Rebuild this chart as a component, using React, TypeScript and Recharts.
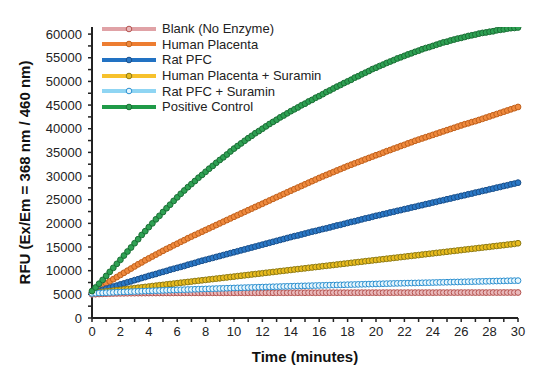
import { LineChart, Line, XAxis, YAxis, Label } from "recharts";

// sampling times (minutes), every 15 s
const TIME = [
  0, 0.25, 0.5, 0.75, 1, 1.25, 1.5, 1.75, 2, 2.25, 2.5, 2.75, 3, 3.25, 3.5, 3.75,
  4, 4.25, 4.5, 4.75, 5, 5.25, 5.5, 5.75, 6, 6.25, 6.5, 6.75, 7, 7.25, 7.5, 7.75,
  8, 8.25, 8.5, 8.75, 9, 9.25, 9.5, 9.75, 10, 10.25, 10.5, 10.75, 11, 11.25, 11.5, 11.75,
  12, 12.25, 12.5, 12.75, 13, 13.25, 13.5, 13.75, 14, 14.25, 14.5, 14.75, 15, 15.25, 15.5, 15.75,
  16, 16.25, 16.5, 16.75, 17, 17.25, 17.5, 17.75, 18, 18.25, 18.5, 18.75, 19, 19.25, 19.5, 19.75,
  20, 20.25, 20.5, 20.75, 21, 21.25, 21.5, 21.75, 22, 22.25, 22.5, 22.75, 23, 23.25, 23.5, 23.75,
  24, 24.25, 24.5, 24.75, 25, 25.25, 25.5, 25.75, 26, 26.25, 26.5, 26.75, 27, 27.25, 27.5, 27.75,
  28, 28.25, 28.5, 28.75, 29, 29.25, 29.5, 29.75, 30,
];

const BLANK = [
  5000, 5040, 5080, 5110, 5140, 5160, 5180, 5200, 5210, 5220, 5230, 5240, 5250, 5250, 5260, 5270,
  5270, 5280, 5280, 5290, 5290, 5300, 5290, 5300, 5310, 5300, 5310, 5320, 5310, 5320, 5320, 5310,
  5320, 5330, 5320, 5320, 5330, 5320, 5330, 5330, 5320, 5330, 5340, 5330, 5330, 5340, 5330, 5340,
  5330, 5340, 5340, 5330, 5340, 5350, 5340, 5340, 5350, 5340, 5340, 5350, 5340, 5350, 5350, 5340,
  5350, 5350, 5340, 5350, 5360, 5350, 5350, 5360, 5350, 5350, 5360, 5350, 5360, 5360, 5350, 5360,
  5360, 5350, 5360, 5370, 5360, 5360, 5370, 5360, 5360, 5370, 5360, 5370, 5370, 5360, 5370, 5370,
  5360, 5370, 5380, 5370, 5370, 5380, 5370, 5370, 5380, 5370, 5380, 5380, 5370, 5380, 5380, 5370,
  5380, 5390, 5380, 5380, 5390, 5380, 5390, 5380, 5390,
];

const HUMAN_PLACENTA = [
  5400, 5850, 6350, 6800, 7300, 7750, 8200, 8650, 9100, 9550, 10000, 10450, 10900, 11350, 11750, 12200,
  12600, 13000, 13400, 13800, 14200, 14600, 14950, 15350, 15700, 16100, 16450, 16850, 17200, 17550, 17900, 18250,
  18600, 18950, 19300, 19650, 20000, 20350, 20700, 21050, 21400, 21740, 22090, 22430, 22780, 23120, 23470, 23810,
  24150, 24500, 24840, 25190, 25530, 25870, 26210, 26560, 26900, 27240, 27570, 27910, 28250, 28590, 28920, 29260,
  29600, 29920, 30230, 30540, 30850, 31170, 31480, 31790, 32100, 32390, 32680, 32960, 33250, 33540, 33830, 34110,
  34400, 34650, 34950, 35250, 35500, 35800, 36050, 36350, 36600, 36900, 37150, 37450, 37700, 37950, 38200, 38450,
  38700, 38950, 39200, 39450, 39700, 39950, 40200, 40450, 40700, 40950, 41150, 41400, 41600, 41850, 42100, 42350,
  42600, 42850, 43100, 43350, 43600, 43850, 44100, 44350, 44600,
];

const RAT_PFC = [
  5300, 5500, 5750, 5950, 6200, 6400, 6650, 6850, 7100, 7300, 7550, 7750, 8000, 8200, 8450, 8650,
  8900, 9100, 9300, 9550, 9750, 9950, 10200, 10400, 10600, 10800, 11000, 11250, 11450, 11650, 11900, 12100,
  12300, 12500, 12700, 12900, 13100, 13300, 13500, 13700, 13900, 14100, 14300, 14500, 14700, 14900, 15100, 15300,
  15500, 15700, 15900, 16100, 16300, 16500, 16700, 16900, 17100, 17300, 17450, 17650, 17850, 18050, 18250, 18400,
  18600, 18800, 18950, 19150, 19350, 19550, 19700, 19900, 20100, 20300, 20450, 20650, 20850, 21050, 21200, 21400,
  21600, 21750, 21950, 22100, 22300, 22450, 22650, 22800, 23000, 23150, 23350, 23500, 23700, 23850, 24050, 24200,
  24400, 24550, 24750, 24900, 25100, 25250, 25450, 25600, 25800, 25950, 26150, 26300, 26500, 26650, 26850, 27000,
  27200, 27350, 27550, 27700, 27900, 28050, 28250, 28400, 28600,
];

const HP_SURAMIN = [
  5300, 5380, 5450, 5530, 5600, 5700, 5780, 5870, 5950, 6050, 6130, 6220, 6300, 6400, 6480, 6570,
  6650, 6750, 6830, 6920, 7000, 7100, 7180, 7270, 7350, 7450, 7530, 7620, 7700, 7800, 7880, 7970,
  8050, 8150, 8230, 8320, 8400, 8500, 8580, 8670, 8750, 8850, 8930, 9020, 9100, 9200, 9280, 9370,
  9450, 9550, 9630, 9720, 9800, 9900, 9980, 10070, 10150, 10250, 10330, 10420, 10500, 10600, 10680, 10770,
  10850, 10950, 11030, 11120, 11200, 11300, 11380, 11470, 11550, 11650, 11730, 11820, 11900, 12000, 12080, 12170,
  12250, 12350, 12430, 12520, 12600, 12700, 12780, 12870, 12950, 13050, 13130, 13220, 13300, 13400, 13480, 13570,
  13650, 13750, 13830, 13920, 14000, 14100, 14180, 14270, 14350, 14450, 14530, 14620, 14700, 14800, 14880, 14970,
  15050, 15150, 15230, 15320, 15400, 15500, 15580, 15670, 15800,
];

const RAT_PFC_SURAMIN = [
  5200, 5240, 5280, 5310, 5350, 5380, 5420, 5450, 5480, 5510, 5540, 5570, 5600, 5630, 5660, 5690,
  5720, 5750, 5780, 5800, 5830, 5860, 5890, 5910, 5940, 5970, 5990, 6020, 6040, 6070, 6090, 6120,
  6140, 6170, 6190, 6220, 6240, 6270, 6290, 6320, 6340, 6370, 6390, 6420, 6440, 6460, 6490, 6510,
  6530, 6550, 6580, 6600, 6620, 6640, 6670, 6690, 6710, 6730, 6760, 6780, 6800, 6820, 6840, 6860,
  6880, 6900, 6920, 6940, 6960, 6980, 7000, 7020, 7040, 7060, 7080, 7100, 7120, 7140, 7160, 7180,
  7200, 7220, 7240, 7260, 7280, 7300, 7320, 7330, 7350, 7370, 7390, 7400, 7420, 7440, 7460, 7470,
  7490, 7510, 7530, 7540, 7560, 7580, 7600, 7610, 7630, 7650, 7670, 7680, 7700, 7720, 7740, 7750,
  7770, 7790, 7810, 7820, 7840, 7860, 7880, 7890, 7900,
];

const POSITIVE = [
  5700, 6450, 7250, 8050, 8900, 9750, 10600, 11450, 12300, 13200, 14050, 14900, 15800, 16650, 17550, 18350,
  19200, 20000, 20850, 21600, 22400, 23200, 23950, 24750, 25500, 26250, 26950, 27650, 28300, 28950, 29650, 30250,
  30900, 31550, 32150, 32800, 33400, 33950, 34550, 35200, 35800, 36350, 36900, 37450, 38000, 38500, 39050, 39500,
  40000, 40500, 41000, 41450, 41900, 42400, 42800, 43250, 43700, 44100, 44500, 44950, 45300, 45750, 46100, 46550,
  46900, 47300, 47750, 48100, 48500, 48900, 49250, 49650, 50000, 50350, 50800, 51100, 51500, 51850, 52200, 52600,
  52900, 53250, 53550, 53900, 54200, 54500, 54850, 55100, 55400, 55700, 55950, 56250, 56500, 56800, 57050, 57250,
  57500, 57750, 58000, 58250, 58400, 58650, 58850, 59050, 59200, 59400, 59600, 59750, 59900, 60100, 60250, 60350,
  60500, 60600, 60800, 60900, 61000, 61150, 61250, 61300, 61400,
];

const X_TICKS = [0, 1, 2, 3, 4, 5, 6, 7, 8, 9, 10, 11, 12, 13, 14, 15, 16, 17, 18, 19, 20, 21, 22, 23, 24, 25, 26, 27, 28, 29, 30];
const Y_TICKS = [
  0, 2500, 5000, 7500, 10000, 12500, 15000, 17500, 20000, 22500, 25000, 27500, 30000,
  32500, 35000, 37500, 40000, 42500, 45000, 47500, 50000, 52500, 55000, 57500, 60000,
];

const SERIES = [
  { key: "blank", name: "Blank (No Enzyme)", values: BLANK, line: "#e0a2a6", fill: "#eab9bb", dot: "#b4524e" },
  { key: "hp", name: "Human Placenta", values: HUMAN_PLACENTA, line: "#ed7d31", fill: "#ef8a3e", dot: "#c0601c" },
  { key: "rat", name: "Rat PFC", values: RAT_PFC, line: "#2272c3", fill: "#2a78c6", dot: "#1a4f8a" },
  { key: "hps", name: "Human Placenta + Suramin", values: HP_SURAMIN, line: "#f7c12c", fill: "#e8bb1e", dot: "#8d7a14" },
  { key: "rats", name: "Rat PFC + Suramin", values: RAT_PFC_SURAMIN, line: "#8fd5f3", fill: "#e6f6fd", dot: "#2a8fd0" },
  { key: "pos", name: "Positive Control", values: POSITIVE, line: "#1f9a48", fill: "#2ea153", dot: "#1a6e35" },
];

const data = TIME.map((t, i) => {
  const row: Record<string, number> = { t };
  SERIES.forEach((s) => (row[s.key] = s.values[i]));
  return row;
});

const FONT = "'Liberation Sans', Arial, sans-serif";

const LegendBox = () => (
  <div style={{ position: "absolute", left: 100, top: 21, fontFamily: FONT, fontSize: 13, color: "#222" }}>
    {SERIES.map((s) => (
      <div key={s.key} style={{ display: "flex", alignItems: "center", height: 15.6 }}>
        <svg width={58} height={10} style={{ marginRight: 4 }}>
          <line x1={2} y1={5} x2={56} y2={5} stroke={s.line} strokeWidth={4} />
          <circle cx={29} cy={5} r={2.8} fill={s.fill} stroke={s.dot} strokeWidth={1} />
        </svg>
        <span style={{ lineHeight: "15px" }}>{s.name}</span>
      </div>
    ))}
  </div>
);

export default function App() {
  return (
    <div style={{ position: "absolute", left: 0, top: 0, width: 548, height: 369, background: "#fff" }}>
      <LineChart width={548} height={369} data={data} margin={{ top: 27, right: 30, bottom: 21, left: 0 }}>
        <XAxis
          dataKey="t"
          type="number"
          domain={[0, 30]}
          ticks={X_TICKS}
          interval={0}
          tickFormatter={(v: number) => (v % 2 === 0 ? String(v) : "")}
          tick={{ fill: "#222", fontSize: 13, fontFamily: FONT }}
          tickSize={4}
          tickMargin={5}
          height={30}
          axisLine={{ stroke: "#222", strokeWidth: 2 }}
          tickLine={{ stroke: "#222", strokeWidth: 1.5 }}
        >
          <Label
            value="Time (minutes)"
            position="insideBottom"
            offset={-14}
            style={{ fill: "#111", fontSize: 15, fontWeight: "bold", fontFamily: FONT }}
          />
        </XAxis>
        <YAxis
          type="number"
          domain={[0, 61500]}
          ticks={Y_TICKS}
          interval={0}
          allowDataOverflow
          tickFormatter={(v: number) => (v % 5000 === 0 ? String(v) : "")}
          tick={{ fill: "#222", fontSize: 13, fontFamily: FONT }}
          tickSize={4}
          tickMargin={6}
          width={92}
          axisLine={{ stroke: "#222", strokeWidth: 2 }}
          tickLine={{ stroke: "#222", strokeWidth: 1.5 }}
        >
          <Label
            value="RFU (Ex/Em = 368 nm / 460 nm)"
            angle={-90}
            position="insideLeft"
            offset={25}
            style={{ textAnchor: "middle", fill: "#111", fontSize: 15, fontWeight: "bold", fontFamily: FONT }}
          />
        </YAxis>
        {SERIES.map((s) => (
          <Line
            key={s.key}
            dataKey={s.key}
            name={s.name}
            type="linear"
            stroke={s.line}
            strokeWidth={2.5}
            dot={{ r: 2.9, fill: s.fill, stroke: s.dot, strokeWidth: 1 }}
            isAnimationActive={false}
          />
        ))}
      </LineChart>
      <LegendBox />
    </div>
  );
}
